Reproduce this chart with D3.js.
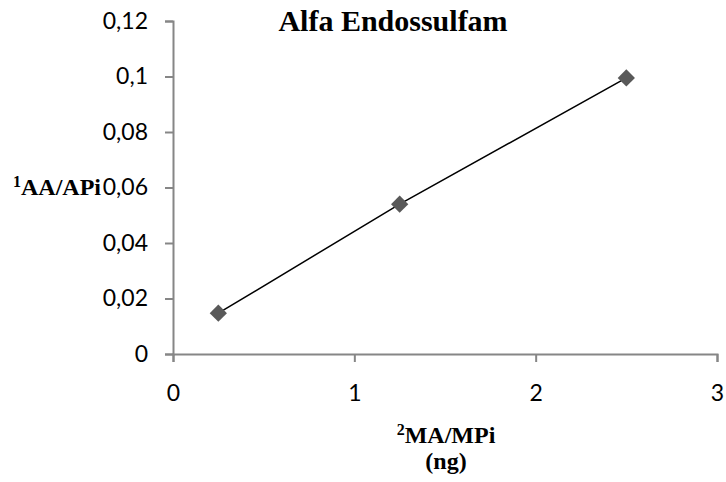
<!DOCTYPE html>
<html lang="pt">
<head>
<meta charset="utf-8">
<title>Alfa Endossulfam</title>
<script src="https://cdn.jsdelivr.net/npm/d3@7"></script>
<style>
  body { margin: 0; background: #fff; }
  .tick text { font-family: Lato, "Open Sans", sans-serif; font-size: 23px; fill: #000; }
  .lbl { font-family: "Liberation Serif", "Times New Roman", serif; font-weight: bold; fill: #000; }
</style>
</head>
<body>
<div id="chart"></div>
<script>
// data
var massRatio = [0.25, 1.25, 2.5];
var areaRatio = [0.0147, 0.054, 0.0995];
var xTicks = [0, 1, 2, 3];
var yTicks = [0, 0.02, 0.04, 0.06, 0.08, 0.1, 0.12];

var width = 726, height = 482;

var svg = d3.select("#chart")
            .append("svg")
            .attr("width", width)
            .attr("height", height);

var x = d3.scaleLinear().domain([0, 3]).range([173, 717]);
var y = d3.scaleLinear().domain([0, 0.12]).range([354, 21]);

function fmt(d) {
  return String(d).replace(".", ",");
}

svg.append("g")
   .attr("transform", "translate(0," + y(0) + ")")
   .call(d3.axisBottom(x).tickValues(xTicks).tickFormat(fmt).tickSizeOuter(0).tickSize(8).tickPadding(23));

svg.append("g")
   .attr("transform", "translate(" + x(0) + ",0)")
   .call(d3.axisLeft(y).tickValues(yTicks).tickFormat(fmt).tickSizeOuter(0).tickSize(8).tickPadding(17));

svg.selectAll(".domain, .tick line")
   .attr("stroke", "#868686")
   .attr("stroke-width", 2);

// connecting line
var line = d3.line()
             .x(function(d, i) { return x(massRatio[i]); })
             .y(function(d) { return y(d); });

svg.append("path")
   .datum(areaRatio)
   .attr("d", line)
   .attr("fill", "none")
   .attr("stroke", "#000")
   .attr("stroke-width", 1.5);

svg.selectAll(".pt")
   .data(areaRatio)
   .enter().append("path")
   .attr("class", "pt")
   .attr("d", d3.symbol().type(d3.symbolDiamond2).size(190))
   .attr("transform", function(d, i) { return "translate(" + x(massRatio[i]) + "," + y(d) + ")"; })
   .attr("fill", "#595959");

// title
svg.append("text")
   .attr("class", "lbl")
   .attr("x", 393)
   .attr("y", 31)
   .attr("text-anchor", "middle")
   .style("font-size", "30px")
   .text("Alfa Endossulfam");

// y label
var yl = svg.append("text")
            .attr("class", "lbl")
            .attr("x", 13)
            .attr("y", 195)
            .style("font-size", "24px");
yl.append("tspan").style("font-size", "16px").attr("dy", "-8").text("1");
yl.append("tspan").attr("dy", "8").text("AA/APi");

// x label
var xl = svg.append("text")
            .attr("class", "lbl")
            .attr("x", 446)
            .attr("y", 443)
            .attr("text-anchor", "middle")
            .style("font-size", "24px");
xl.append("tspan").style("font-size", "16px").attr("dy", "-8").text("2");
xl.append("tspan").attr("dy", "8").text("MA/MPi");

svg.append("text")
   .attr("class", "lbl")
   .attr("x", 446)
   .attr("y", 469)
   .attr("text-anchor", "middle")
   .style("font-size", "24px")
   .text("(ng)");
</script>
</body>
</html>
